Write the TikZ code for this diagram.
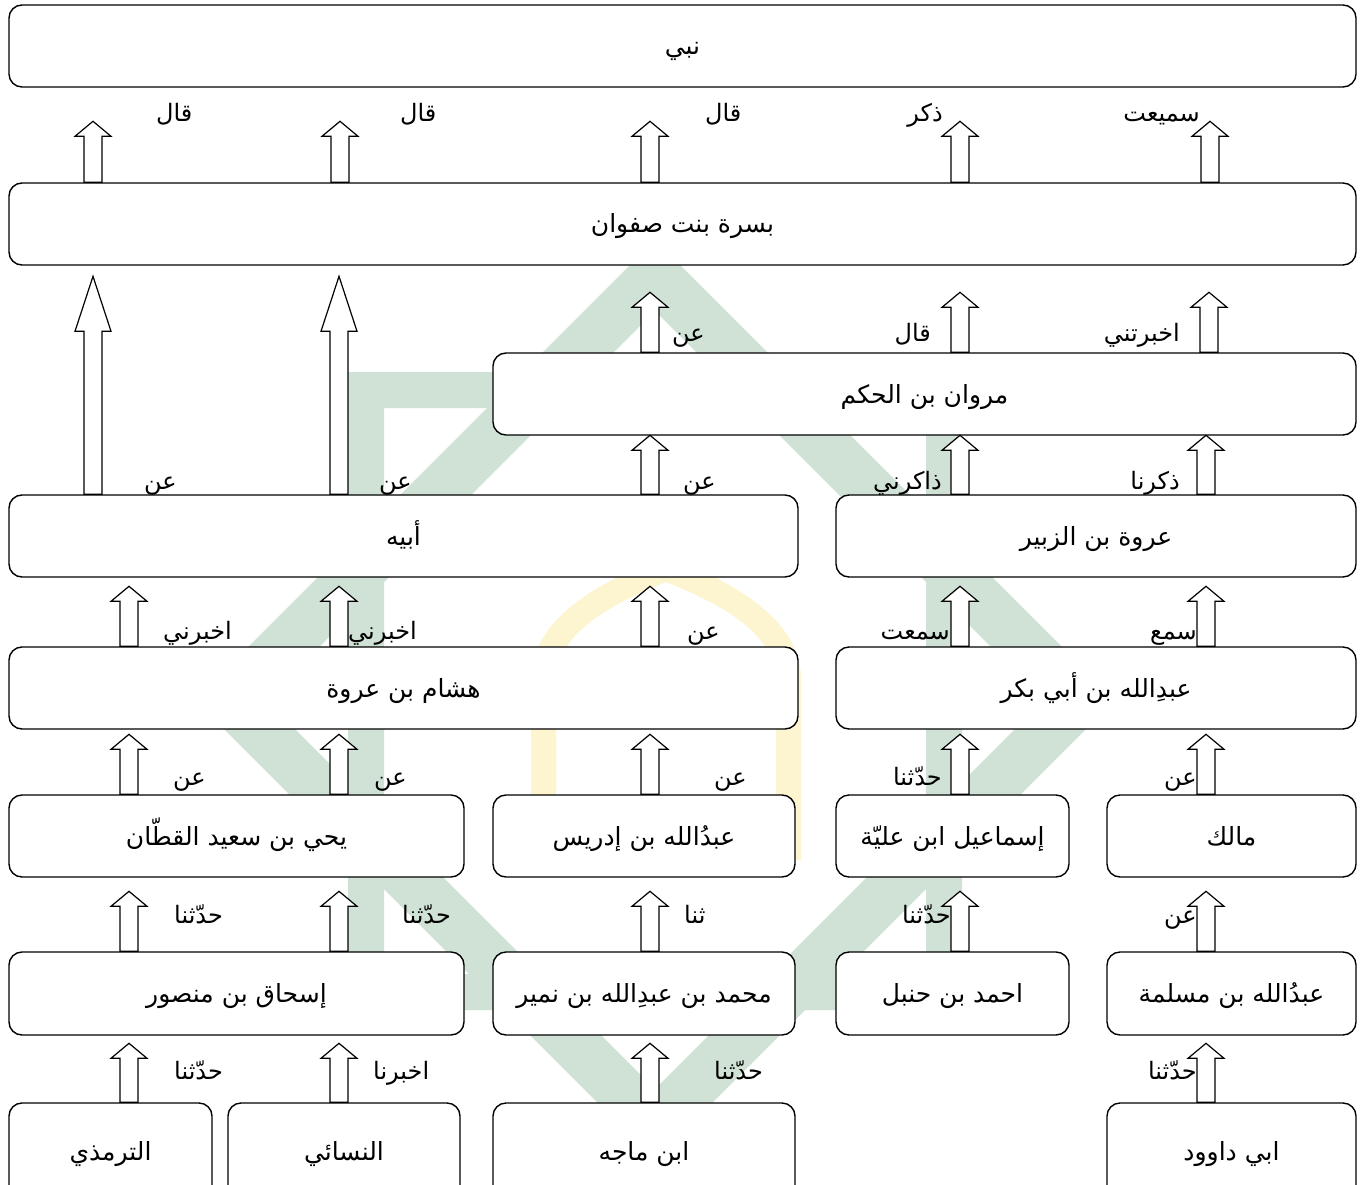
\documentclass[tikz,border=0pt]{standalone}
\usepackage{fontspec}
\newfontfamily\arabicfont[Script=Arabic]{DejaVu Sans}
\TeXXeTstate=1
\usetikzlibrary{calc}
\definecolor{wmgreen}{RGB}{208,226,214}
\definecolor{wmyellow}{RGB}{253,245,208}
\tikzset{
  box/.style={draw, line width=1.4pt, rounded corners=13pt, fill=white, inner sep=0pt,
    text height=19pt, text depth=1pt, font=\arabicfont\fontsize{25}{28}\selectfont},
  lbl/.style={inner sep=0pt, font=\arabicfont\fontsize{24}{27}\selectfont},
  barrow/.style={draw, fill=white, line width=1.2pt, line join=miter},
}
% box: name, x1, y1, x2, y2, text
\newcommand{\bx}[6]{\node[box, minimum width=#4pt-#2pt, minimum height=#5pt-#3pt] (#1) at ({(#2+#4)/2},{(#3+#5)/2}) {#6};}
% block arrow: x, lower node, length, head length
\newcommand{\blkarrow}[4]{\draw[barrow] let \p1=(#2.north) in
  (#1pt-9pt,\y1) -- (#1pt-9pt,\y1+#3pt-#4pt) -- (#1pt-18pt,\y1+#3pt-#4pt) -- (#1pt,\y1+#3pt)
  -- (#1pt+18pt,\y1+#3pt-#4pt) -- (#1pt+9pt,\y1+#3pt-#4pt) -- (#1pt+9pt,\y1) -- cycle;}
% labels: name, x, baseline y, text
\newcommand{\lblR}[4]{\node[lbl, anchor=base west] (#1) at (#2,#3) {#4};}
\newcommand{\lblL}[4]{\node[lbl, anchor=base east] (#1) at (#2,#3) {#4};}
\begin{document}
\begin{tikzpicture}[x=1pt,y=-1pt]
\useasboundingbox (0,0) rectangle (1365,1185);
\fill[white] (0,0) rectangle (1365,1185);
% watermark (faint logo)
\fill[wmgreen, even odd rule] (348,372) rectangle (962,1010) (384,408) rectangle (926,974);
\fill[wmgreen, even odd rule] (655,240) -- (1115,700) -- (655,1160) -- (195,700) -- cycle
  (655,311) -- (1044,700) -- (655,1089) -- (266,700) -- cycle;
\fill[wmyellow] (531,860) -- (531,680) .. controls (531,610) and (620,575) .. (666,555)
  .. controls (712,575) and (801,610) .. (801,680) -- (801,860) -- (776,860) -- (776,680)
  .. controls (776,628) and (705,598) .. (666,582) .. controls (627,598) and (556,628) .. (556,680)
  -- (556,860) -- cycle;
% boxes
\bx{nabi}{9}{5}{1356}{87}{\beginR نبي\endR}
\bx{busra}{9}{183}{1356}{265}{\beginR بسرة بنت صفوان\endR}
\bx{marwan}{493}{353}{1356}{435}{\beginR مروان بن الحكم\endR}
\bx{abihi}{9}{495}{798}{577}{\beginR أبيه\endR}
\bx{urwa}{836}{495}{1356}{577}{\beginR عروة بن الزبير\endR}
\bx{hisham}{9}{647}{798}{729}{\beginR هشام بن عروة\endR}
\bx{abibakr}{836}{647}{1356}{729}{\beginR عبدِالله بن أبي بكر\endR}
\bx{yahya}{9}{795}{464}{877}{\beginR يحي بن سعيد القطّان\endR}
\bx{idris}{493}{795}{795}{877}{\beginR عبدُالله بن إدريس\endR}
\bx{ismail}{836}{795}{1069}{877}{\beginR إسماعيل ابن عليّة\endR}
\bx{malik}{1107}{795}{1356}{877}{\beginR مالك\endR}
\bx{ishaq}{9}{952}{464}{1035}{\beginR إسحاق بن منصور\endR}
\bx{numayr}{493}{952}{795}{1035}{\beginR محمد بن عبدِالله بن نمير\endR}
\bx{ahmad}{836}{952}{1069}{1035}{\beginR احمد بن حنبل\endR}
\bx{maslama}{1107}{952}{1356}{1035}{\beginR عبدُالله بن مسلمة\endR}
\bx{tirmidhi}{9}{1103}{212}{1200}{\beginR الترمذي\endR}
\bx{nasai}{228}{1103}{460}{1200}{\beginR النسائي\endR}
\bx{majah}{493}{1103}{795}{1200}{\beginR ابن ماجه\endR}
\bx{dawud}{1107}{1103}{1356}{1200}{\beginR ابي داوود\endR}
% arrows
\blkarrow{93}{busra}{61}{15}
\blkarrow{340}{busra}{61}{15}
\blkarrow{650}{busra}{61}{15}
\blkarrow{960}{busra}{61}{15}
\blkarrow{1210}{busra}{61}{15}
\blkarrow{650}{marwan}{60}{15}
\blkarrow{960}{marwan}{60}{15}
\blkarrow{1209}{marwan}{60}{15}
\blkarrow{93}{abihi}{218}{55}
\blkarrow{339}{abihi}{218}{55}
\blkarrow{650}{abihi}{59}{15}
\blkarrow{960}{urwa}{59}{15}
\blkarrow{1206}{urwa}{59}{15}
\blkarrow{129}{hisham}{60}{15}
\blkarrow{339}{hisham}{60}{15}
\blkarrow{650}{hisham}{60}{15}
\blkarrow{960}{abibakr}{60}{15}
\blkarrow{1206}{abibakr}{60}{15}
\blkarrow{129}{yahya}{60}{15}
\blkarrow{339}{yahya}{60}{15}
\blkarrow{650}{idris}{60}{15}
\blkarrow{960}{ismail}{60}{15}
\blkarrow{1206}{malik}{60}{15}
\blkarrow{129}{ishaq}{60}{15}
\blkarrow{339}{ishaq}{60}{15}
\blkarrow{650}{numayr}{60}{15}
\blkarrow{960}{ahmad}{60}{15}
\blkarrow{1206}{maslama}{60}{15}
\blkarrow{129}{tirmidhi}{59}{15}
\blkarrow{339}{nasai}{59}{15}
\blkarrow{650}{majah}{59}{15}
\blkarrow{1206}{dawud}{59}{15}
% labels row 1-2
\lblR{a1}{156}{122}{\beginR قال\endR}
\lblR{a2}{400}{122}{\beginR قال\endR}
\lblR{a3}{705}{122}{\beginR قال\endR}
\lblL{a4}{943}{122}{\beginR ذكر\endR}
\lblL{a5}{1200}{122}{\beginR سميعت\endR}
% row 2-3
\lblR{b1}{672}{341}{\beginR عن\endR}
\lblL{b2}{931}{341}{\beginR قال\endR}
\lblL{b3}{1180}{341}{\beginR اخبرتني\endR}
% row 3-4
\lblR{c1}{144}{489}{\beginR عن\endR}
\lblR{c2}{379}{489}{\beginR عن\endR}
\lblR{c3}{683}{489}{\beginR عن\endR}
\lblL{c4}{942}{489}{\beginR ذاكرني\endR}
\lblL{c5}{1180}{489}{\beginR ذكرنا\endR}
% row 4-5
\lblR{d1}{163}{639}{\beginR اخبرني\endR}
\lblR{d2}{348}{639}{\beginR اخبرني\endR}
\lblR{d3}{687}{639}{\beginR عن\endR}
\lblL{d4}{950}{639}{\beginR سمعت\endR}
\lblL{d5}{1197}{639}{\beginR سمع\endR}
% row 5-6
\lblR{e1}{173}{785}{\beginR عن\endR}
\lblR{e2}{374}{785}{\beginR عن\endR}
\lblR{e3}{714}{785}{\beginR عن\endR}
\lblL{e4}{942}{785}{\beginR حدّثنا\endR}
\lblL{e5}{1197}{785}{\beginR عن\endR}
% row 6-7
\lblR{f1}{174}{923}{\beginR حدّثنا\endR}
\lblR{f2}{402}{923}{\beginR حدّثنا\endR}
\lblR{f3}{684}{923}{\beginR ثنا\endR}
\lblL{f4}{951}{923}{\beginR حدّثنا\endR}
\lblL{f5}{1197}{923}{\beginR عن\endR}
% row 7-8
\lblR{g1}{174}{1079}{\beginR حدّثنا\endR}
\lblR{g2}{373}{1079}{\beginR اخبرنا\endR}
\lblR{g3}{714}{1079}{\beginR حدّثنا\endR}
\lblL{g4}{1197}{1079}{\beginR حدّثنا\endR}
\end{tikzpicture}
\end{document}
